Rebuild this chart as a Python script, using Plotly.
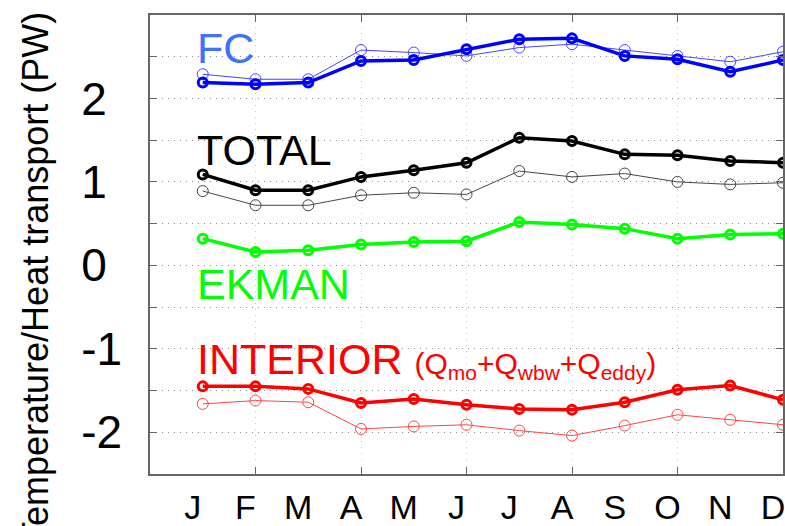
import plotly.graph_objects as go

months = ["J", "F", "M", "A", "M", "J", "J", "A", "S", "O", "N", "D"]
month_num = list(range(1, 13))

fc_thick = [2.19, 2.17, 2.19, 2.45, 2.46, 2.59, 2.71, 2.72, 2.51, 2.47, 2.32, 2.46]
fc_thin = [2.29, 2.23, 2.23, 2.58, 2.55, 2.51, 2.61, 2.65, 2.58, 2.51, 2.44, 2.56]
total_thick = [1.09, 0.90, 0.90, 1.06, 1.14, 1.23, 1.53, 1.49, 1.33, 1.32, 1.25, 1.23]
total_thin = [0.89, 0.72, 0.72, 0.84, 0.87, 0.85, 1.13, 1.06, 1.10, 1.00, 0.97, 0.99]
ekman = [0.32, 0.16, 0.18, 0.25, 0.28, 0.29, 0.52, 0.49, 0.44, 0.32, 0.37, 0.38]
interior_thick = [-1.45, -1.45, -1.48, -1.65, -1.60, -1.67, -1.72, -1.73, -1.64, -1.49, -1.44, -1.61]
interior_thin = [-1.66, -1.62, -1.64, -1.96, -1.93, -1.91, -1.98, -2.04, -1.92, -1.79, -1.85, -1.91]

y_tickvals = [-2.5, -2, -1.5, -1, -0.5, 0, 0.5, 1, 1.5, 2, 2.5]
pad = "<span style='color:rgba(0,0,0,0)'>-</span>"
y_ticktext = ["", "-2", "", "-1", "", "0" + pad, "", "1" + pad, "", "2" + pad, ""]
x_grid = [2, 4, 6, 8, 10, 12]
label_shift = 0.19

FONT = "Arial, Liberation Sans, sans-serif"

fig = go.Figure()


def add(y, color, width, msize, mwidth):
    fig.add_trace(go.Scatter(
        x=month_num, y=y, mode="lines+markers",
        line=dict(color=color, width=width),
        marker=dict(symbol="circle-open", size=msize, color=color,
                    line=dict(color=color, width=mwidth)),
        cliponaxis=False, showlegend=False, hoverinfo="skip"))


add(fc_thin, "rgb(70,70,255)", 1, 11, 1)
add(fc_thick, "#0000ff", 3.5, 9, 3)
add(total_thin, "rgb(70,70,70)", 1, 11, 1)
add(total_thick, "#000000", 3.5, 9, 3)
add(ekman, "#00ff00", 3.5, 9, 3)
add(interior_thin, "rgb(255,70,70)", 1, 11, 1)
add(interior_thick, "#ff0000", 3.5, 9, 3)

axis_common = dict(showline=True, linecolor="#666", linewidth=1.5, mirror="ticks",
                   ticks="inside", ticklen=7, tickcolor="#666", tickwidth=1,
                   showgrid=True, griddash="1px,5px", gridwidth=1,
                   zeroline=False)

fig.update_layout(
    width=785, height=526,
    margin=dict(l=150, r=2, t=15, b=52, autoexpand=False),
    paper_bgcolor="white", plot_bgcolor="white",
    font=dict(family=FONT, color="black"),
    xaxis=dict(range=[0, 12], tickvals=x_grid, showticklabels=False,
               gridcolor="#c8c8c8", **axis_common),
    xaxis2=dict(range=[0, 12], overlaying="x", anchor="y", side="bottom",
                tickmode="array", tickvals=[m - label_shift for m in month_num],
                ticktext=months, showgrid=False, showline=False, ticks="",
                zeroline=False, tickfont=dict(size=34, family=FONT),
                ticklabelstandoff=10, ticklabeloverflow="allow"),
    yaxis=dict(range=[-2.5, 3], tickvals=y_tickvals, ticktext=y_ticktext,
               tickfont=dict(size=46, family=FONT), ticklabelstandoff=17,
               gridcolor="#8c8c8c", **axis_common),
)

# dummy trace to activate xaxis2
fig.add_trace(go.Scatter(x=[None], y=[None], xaxis="x2", yaxis="y",
                         showlegend=False, hoverinfo="skip"))

ann = dict(xref="x", yref="y", showarrow=False, xanchor="left", yanchor="middle")
fig.add_annotation(x=0.86, y=2.60, text="FC", font=dict(size=43, color="#4070ff", family=FONT), **ann)
fig.add_annotation(x=0.86, y=1.38, text="TOTAL", font=dict(size=43, color="black", family=FONT), **ann)
fig.add_annotation(x=0.86, y=-0.22, text="EKMAN", font=dict(size=43, color="#00ff00", family=FONT), **ann)
fig.add_annotation(
    x=0.86, y=-1.13,
    text="INTERIOR <span style='font-size:30px'>(Q<sub>mo</sub>+Q<sub>wbw</sub>+Q<sub>eddy</sub>)</span>",
    font=dict(size=43, color="#ff0000", family=FONT), **ann)

fig.add_annotation(xref="paper", yref="paper", x=-0.1817, y=0.427,
                   text="Temperature/Heat transport (PW)", textangle=-90,
                   showarrow=False, xanchor="center", yanchor="middle",
                   font=dict(size=36, color="black", family=FONT))

fig.write_html("out.html")
